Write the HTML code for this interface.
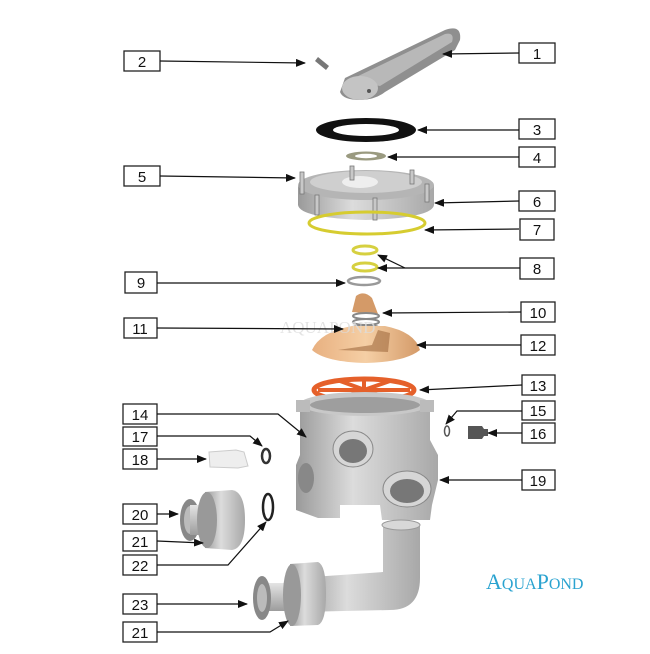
<!DOCTYPE html>
<html><head><meta charset="utf-8"><style>
html,body{margin:0;padding:0;background:#fff;}
svg{display:block}
</style></head><body>
<svg width="650" height="654" viewBox="0 0 650 654" xmlns="http://www.w3.org/2000/svg">
<defs>
<marker id="a" markerWidth="10" markerHeight="8" refX="9" refY="4" orient="auto" markerUnits="userSpaceOnUse">
<path d="M0,0 L10,4 L0,8 Z" fill="#111"/></marker>
<linearGradient id="g" x1="0" y1="0" x2="1" y2="0"><stop offset="0" stop-color="#9a9a9a"/><stop offset="0.4" stop-color="#dcdcdc"/><stop offset="1" stop-color="#a8a8a8"/></linearGradient>
<linearGradient id="gv" x1="0" y1="0" x2="0" y2="1"><stop offset="0" stop-color="#e4e4e4"/><stop offset="1" stop-color="#9c9c9c"/></linearGradient>
<linearGradient id="tan" x1="0" y1="0" x2="1" y2="0"><stop offset="0" stop-color="#e8b080"/><stop offset="0.5" stop-color="#f5cfa5"/><stop offset="1" stop-color="#d49a68"/></linearGradient>
</defs>

<!-- parts -->
<!-- 1 handle -->
<path d="M345,78 L445,30 Q462,24 460,40 L455,50 L385,92 Q375,100 360,100 Q343,100 340,92 Z" fill="#8f8f8f"/>
<path d="M350,80 L445,34 Q455,32 452,42 L380,86 Z" fill="#b8b8b8"/>
<ellipse cx="360" cy="88" rx="18" ry="12" fill="#c4c4c4"/>
<circle cx="369" cy="91" r="2" fill="#555"/>
<!-- 2 pin -->
<path d="M318,57 L329,66 L326,70 L315,61 Z" fill="#777"/>
<!-- 3 gasket -->
<ellipse cx="366" cy="130" rx="50" ry="12" fill="#111"/>
<ellipse cx="366" cy="130" rx="33" ry="6" fill="#fff"/>
<!-- 4 washer -->
<ellipse cx="366" cy="156" rx="20" ry="4.5" fill="#9a9a80"/>
<ellipse cx="366" cy="156" rx="11" ry="2.2" fill="#fff"/>
<!-- 5/6 cover -->
<path d="M298,185 L298,205 Q300,218 366,220 Q432,218 434,205 L434,185 Z" fill="url(#g)"/>
<ellipse cx="366" cy="185" rx="68" ry="15" fill="#b5b5b5"/>
<ellipse cx="366" cy="182" rx="56" ry="11" fill="#cfcfcf"/>
<ellipse cx="360" cy="182" rx="18" ry="6" fill="#eee"/>
<g fill="#c8c8c8" stroke="#777" stroke-width="0.8">
<rect x="300" y="172" width="4" height="22"/><rect x="350" y="166" width="4" height="14"/><rect x="410" y="170" width="4" height="14"/><rect x="425" y="184" width="4" height="18"/><rect x="315" y="195" width="4" height="20"/><rect x="373" y="198" width="4" height="22"/>
</g>
<!-- 7 oring -->
<ellipse cx="367" cy="223" rx="58" ry="11" fill="none" stroke="#d6cc30" stroke-width="3"/>
<!-- 8 -->
<ellipse cx="365" cy="250" rx="12" ry="4" fill="none" stroke="#d6d040" stroke-width="3"/>
<ellipse cx="365" cy="267" rx="12" ry="4" fill="none" stroke="#d6d040" stroke-width="3"/>
<!-- 9 -->
<ellipse cx="364" cy="281" rx="16" ry="4" fill="none" stroke="#999" stroke-width="2.5"/>
<!-- 10/12 rotor -->
<path d="M352,312 L356,296 Q364,290 372,298 L378,314 Z" fill="#d49a68"/>
<ellipse cx="366" cy="316" rx="13" ry="3" fill="none" stroke="#888" stroke-width="2"/>
<ellipse cx="366" cy="322" rx="13" ry="3" fill="none" stroke="#888" stroke-width="2"/>
<ellipse cx="366" cy="328" rx="13" ry="3" fill="none" stroke="#888" stroke-width="2"/>
<path d="M312,350 Q320,332 352,326 L385,326 Q415,332 420,350 Q405,362 366,363 Q325,362 312,350 Z" fill="url(#tan)"/>
<path d="M338,350 L372,345 L378,330 L390,333 L388,352 Z" fill="#a06b40" opacity="0.6"/>
<!-- 13 wheel -->
<ellipse cx="364" cy="390" rx="50" ry="11" fill="none" stroke="#e5602a" stroke-width="5"/>
<path d="M318,390 L410,390 M340,381 L390,399 M390,381 L338,399 M364,379 L364,401" stroke="#e5602a" stroke-width="4"/>
<!-- 19 body -->
<path d="M300,405 L300,455 L296,465 L296,510 L318,518 L340,518 L340,505 L380,505 L382,520 L430,520 L432,505 L438,480 L438,455 L430,440 L430,405 Z" fill="url(#g)"/>
<ellipse cx="365" cy="404" rx="65" ry="12" fill="#c8c8c8"/>
<ellipse cx="365" cy="405" rx="55" ry="8" fill="#9e9e9e"/>
<rect x="296" y="400" width="14" height="12" fill="#bbb"/><rect x="420" y="400" width="14" height="12" fill="#bbb"/>
<ellipse cx="353" cy="449" rx="20" ry="18" fill="#d6d6d6" stroke="#888"/>
<ellipse cx="353" cy="451" rx="14" ry="12" fill="#777"/>
<ellipse cx="407" cy="489" rx="24" ry="18" fill="#d6d6d6" stroke="#888"/>
<ellipse cx="407" cy="491" rx="17" ry="12" fill="#777"/>
<ellipse cx="306" cy="478" rx="8" ry="15" fill="#888"/>
<!-- 14 small -->
<!-- 15,16 -->
<ellipse cx="447" cy="431" rx="2.5" ry="5" fill="none" stroke="#555" stroke-width="1.5"/>
<path d="M468,426 L482,426 L484,429 L488,429 L488,436 L484,436 L482,439 L468,439 Z" fill="#555"/>
<!-- 17 -->
<ellipse cx="266" cy="456" rx="4" ry="7" fill="none" stroke="#333" stroke-width="2.5"/>
<!-- 18 -->
<path d="M209,452 L236,450 L244,452 L248,466 L238,468 L210,467 Z" fill="#eee" stroke="#ccc"/>
<!-- 20/21 union -->
<ellipse cx="190" cy="520" rx="10" ry="21" fill="#888"/>
<ellipse cx="190" cy="520" rx="6" ry="14" fill="#bbb"/>
<rect x="190" y="505" width="25" height="30" fill="url(#gv)"/>
<path d="M205,492 L232,490 Q245,492 245,520 Q245,548 232,550 L205,548 Z" fill="url(#g)"/>
<ellipse cx="207" cy="520" rx="10" ry="28" fill="#999"/>
<!-- 22 -->
<ellipse cx="268" cy="507" rx="5" ry="13" fill="none" stroke="#222" stroke-width="2.5"/>
<!-- elbow 23 -->
<path d="M383,525 L420,525 L420,578 Q420,610 390,610 L300,612 L298,578 L383,572 Z" fill="url(#g)"/>
<ellipse cx="401" cy="525" rx="19" ry="5" fill="#d8d8d8" stroke="#999"/>
<rect x="262" y="583" width="40" height="28" fill="url(#gv)"/>
<path d="M290,564 L318,562 Q326,565 326,594 Q326,622 318,625 L290,626 Z" fill="url(#g)"/>
<ellipse cx="292" cy="595" rx="9" ry="31" fill="#999"/>
<ellipse cx="262" cy="598" rx="9" ry="22" fill="#888"/>
<ellipse cx="262" cy="598" rx="5" ry="14" fill="#bbb"/>

<!-- watermark -->
<text x="280" y="333" font-family="Liberation Serif, serif" font-size="17" fill="#ddd" opacity="0.8">AQUAPOND</text>

<!-- boxes -->
<g fill="#fff" stroke="#222" stroke-width="1.3">
<rect x="519" y="43" width="36" height="20"/><rect x="124" y="51" width="36" height="20"/>
<rect x="519" y="119" width="36" height="20"/><rect x="519" y="147" width="36" height="20"/>
<rect x="124" y="166" width="36" height="20"/><rect x="519" y="191" width="36" height="20"/>
<rect x="520" y="219" width="34" height="21"/><rect x="520" y="258" width="34" height="21"/>
<rect x="125" y="272" width="32" height="21"/><rect x="521" y="302" width="34" height="20"/>
<rect x="124" y="318" width="33" height="20"/><rect x="521" y="335" width="34" height="20"/>
<rect x="522" y="375" width="33" height="20"/><rect x="123" y="404" width="34" height="20"/>
<rect x="522" y="401" width="33" height="19"/><rect x="522" y="423" width="33" height="20"/>
<rect x="123" y="427" width="34" height="19"/><rect x="123" y="449" width="34" height="20"/>
<rect x="522" y="470" width="33" height="20"/><rect x="123" y="504" width="34" height="20"/>
<rect x="123" y="531" width="34" height="20"/><rect x="123" y="555" width="34" height="20"/>
<rect x="123" y="594" width="34" height="20"/><rect x="123" y="622" width="34" height="20"/>
</g>
<g font-family="Liberation Sans, sans-serif" font-size="15" fill="#111" text-anchor="middle">
<text x="537" y="59">1</text><text x="142" y="67">2</text><text x="537" y="135">3</text><text x="537" y="163">4</text>
<text x="142" y="182">5</text><text x="537" y="207">6</text><text x="537" y="235">7</text><text x="537" y="274">8</text>
<text x="141" y="288">9</text><text x="538" y="318">10</text><text x="140" y="334">11</text><text x="538" y="351">12</text>
<text x="538" y="391">13</text><text x="140" y="420">14</text><text x="538" y="416">15</text><text x="538" y="439">16</text>
<text x="140" y="442">17</text><text x="140" y="465">18</text><text x="538" y="486">19</text><text x="140" y="520">20</text>
<text x="140" y="547">21</text><text x="140" y="571">22</text><text x="140" y="610">23</text><text x="140" y="638">21</text>
</g>

<!-- leaders -->
<g stroke="#111" stroke-width="1.2" fill="none" marker-end="url(#a)">
<path d="M519,53 L443,54"/><path d="M160,61 L305,63"/><path d="M519,130 L418,130"/><path d="M519,157 L388,157"/>
<path d="M160,176 L295,178"/><path d="M519,201 L435,203"/><path d="M519,229 L425,230"/>
<path d="M520,268 L378,268"/><path d="M405,268 L378,255"/><path d="M157,283 L345,283"/>
<path d="M521,312 L383,313"/><path d="M157,328 L343,329"/><path d="M521,345 L417,345"/>
<path d="M522,385 L420,390"/><path d="M157,414 L278,414 L306,437"/><path d="M522,411 L457,411 L446,424"/>
<path d="M522,433 L488,433"/><path d="M522,480 L440,480"/><path d="M157,436 L250,436 L262,446"/>
<path d="M157,459 L206,459"/><path d="M157,514 L178,514"/><path d="M157,541 L203,543"/>
<path d="M157,565 L228,565 L266,522"/><path d="M157,604 L247,604"/><path d="M157,632 L270,632 L288,621"/>
</g>

<text x="486" y="589" font-family="Liberation Serif, serif" font-size="22" fill="#2aa3d0">A<tspan font-size="16">QUA</tspan>P<tspan font-size="16">OND</tspan></text>
</svg>
</body></html>
